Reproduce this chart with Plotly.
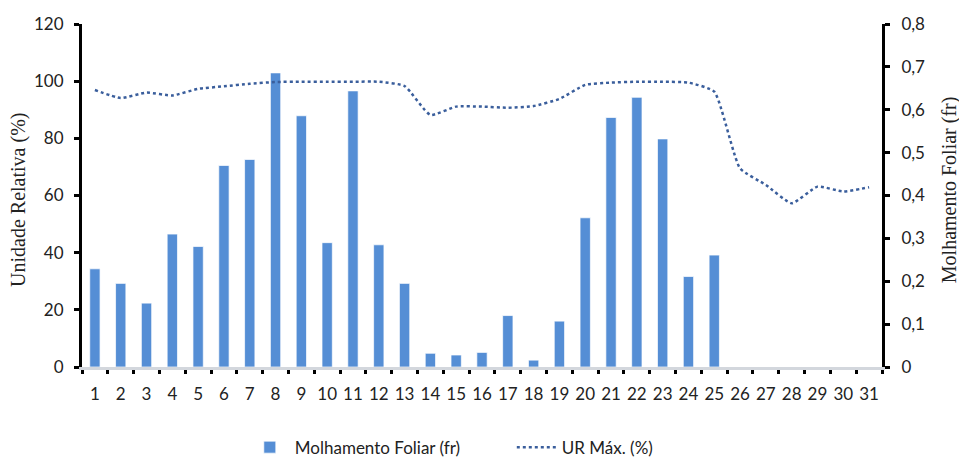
import plotly.graph_objects as go

days = [str(d) for d in range(1, 32)]
molhamento = [0.229, 0.195, 0.149, 0.310, 0.281, 0.470, 0.484, 0.686, 0.586, 0.290,
              0.644, 0.285, 0.195, 0.032, 0.028, 0.034, 0.120, 0.016, 0.107, 0.348,
              0.582, 0.629, 0.532, 0.211, 0.261, 0, 0, 0, 0, 0, 0]
ur_max = [96.9, 94.1, 96.0, 95.0, 97.3, 98.2, 99.1, 99.7, 99.8, 99.8,
          99.8, 99.8, 98.3, 88.2, 91.1, 91.1, 90.7, 91.3, 93.8, 98.7,
          99.5, 99.8, 99.8, 99.5, 96.3, 69.5, 63.7, 57.3, 63.1, 61.4, 62.9]
left_ticks = [0, 20, 40, 60, 80, 100, 120]
right_ticks = [0, 0.1, 0.2, 0.3, 0.4, 0.5, 0.6, 0.7, 0.8]
right_labels = ["0", "0,1", "0,2", "0,3", "0,4", "0,5", "0,6", "0,7", "0,8"]
left_title = "Unidade Relativa (%)"
right_title = "Molhamento Foliar (fr)"

tick_font = dict(family="Lato, Open Sans, sans-serif", size=17, color="#222222")
title_font = dict(family="Liberation Serif, Times New Roman, serif", size=20, color="#222222")

fig = go.Figure()
fig.add_trace(go.Bar(
    x=days, y=molhamento, name="Molhamento Foliar (fr)",
    marker=dict(color="#558ED5", line=dict(color="rgba(255,255,255,0.7)", width=1)),
    width=0.4, yaxis="y",
))
fig.add_trace(go.Scatter(
    x=days, y=ur_max, name="UR Máx. (%)", mode="lines",
    line=dict(color="#3A5E9C", width=2.5, dash="dot", shape="spline", smoothing=0.5),
    yaxis="y2",
))

fig.add_annotation(text=left_title, xref="paper", yref="paper", x=-0.0788, y=0.487,
                   xanchor="center", yanchor="middle", textangle=-90,
                   showarrow=False, font=title_font)
fig.add_annotation(text=right_title, xref="paper", yref="paper", x=1.084, y=0.516,
                   xanchor="center", yanchor="middle", textangle=-90,
                   showarrow=False, font=title_font)

fig.update_layout(
    width=959, height=450,
    margin=dict(l=74, r=85, t=16, b=91, autoexpand=False),
    plot_bgcolor="white", paper_bgcolor="white",
    showlegend=True,
    legend=dict(orientation="h", x=0.2035, xanchor="left", y=-0.235, yanchor="middle",
                font=dict(family="Lato, Open Sans, sans-serif", size=17, color="#222222"),
                itemwidth=40, entrywidth=212, entrywidthmode="pixels"),
    xaxis=dict(type="category", tickson="boundaries", ticks="outside", ticklen=4,
               tickwidth=3, tickcolor="black", showline=True, linecolor="#D3D7DD",
               linewidth=3, showgrid=False, tickfont=tick_font, ticklabelstandoff=10,
               zeroline=False, tickangle=0, automargin=False),
    yaxis=dict(side="right", range=[0, 0.8], tickvals=right_ticks, ticktext=right_labels,
               ticks="outside", ticklen=5, tickwidth=3, tickcolor="black",
               showline=True, linecolor="black", linewidth=3, showgrid=False,
               zeroline=False, tickfont=tick_font, ticklabelstandoff=8, automargin=False),
    yaxis2=dict(side="left", overlaying="y", range=[0, 120], tickvals=left_ticks,
                ticks="outside", ticklen=5, tickwidth=3, tickcolor="black",
                showline=True, linecolor="black", linewidth=3, showgrid=False,
                zeroline=False, tickfont=tick_font, ticklabelstandoff=7, automargin=False),
)

fig.write_html("out.html")
